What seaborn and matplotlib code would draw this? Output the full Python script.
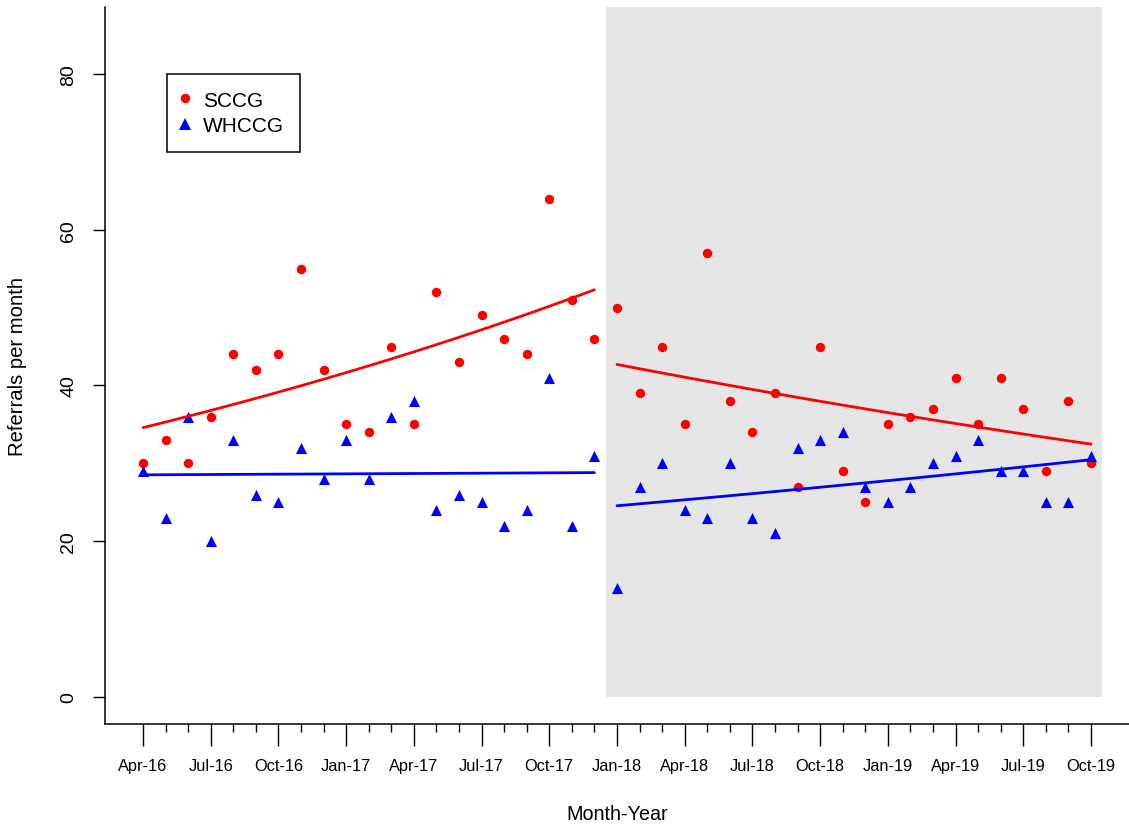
import numpy as np
import pandas as pd
import matplotlib
matplotlib.use("Agg")
import matplotlib.pyplot as plt
import seaborn as sns
from matplotlib.patches import Rectangle
from matplotlib.lines import Line2D

# ---------------- data ----------------
months = pd.date_range("2016-04-01", "2019-10-01", freq="MS")
month_labels = [d.strftime("%b-%y") for d in months]

sccg = [30, 33, 30, 36, 44, 42, 44, 55, 42, 35, 34, 45, 35, 52, 43, 49, 46, 44, 64, 51, 46,
        50, 39, 45, 35, 57, 38, 34, 39, 27, 45, 29, 25, 35, 36, 37, 41, 35, 41, 37, 29, 38, 30]
whccg = [29, 23, 36, 20, 33, 26, 25, 32, 28, 33, 28, 36, 38, 24, 26, 25, 22, 24, 41, 22, 31,
         14, 27, 30, 24, 23, 30, 23, 21, 32, 33, 34, 27, 25, 27, 30, 31, 33, 29, 29, 25, 25, 31]
groups = ["SCCG", "WHCCG"]
colors = {"SCCG": "#FF0000", "WHCCG": "#0000FF"}
intervention_start = 21  # first post-intervention month (Jan-18)

idx = np.arange(len(months))
df = pd.DataFrame({
    "idx": np.concatenate([idx, idx]),
    "value": np.array(sccg + whccg, dtype=float),
    "group": ["SCCG"] * len(idx) + ["WHCCG"] * len(idx),
})
df["period"] = np.where(df["idx"] < intervention_start, "pre", "post")


def poisson_fit(x, y, iters=50):
    X = np.column_stack([np.ones_like(x, dtype=float), x.astype(float)])
    b = np.array([np.log(np.mean(y)), 0.0])
    for _ in range(iters):
        eta = X @ b
        mu = np.exp(eta)
        z = eta + (y - mu) / mu
        W = mu
        b = np.linalg.solve(X.T @ (W[:, None] * X), X.T @ (W * z))
    return np.exp(X @ b)


fits = []
for g in groups:
    for p in ["pre", "post"]:
        sub = df[(df.group == g) & (df.period == p)].sort_values("idx")
        f = sub.copy()
        f["fit"] = poisson_fit(sub["idx"].values, sub["value"].values)
        f["seg"] = g + "_" + p
        fits.append(f)
fitdf = pd.concat(fits)

# ---------------- plot ----------------
sns.set_style("white")
plt.rcParams["font.family"] = ["Liberation Sans", "DejaVu Sans"]
plt.rcParams["text.color"] = "black"
plt.rcParams["axes.labelcolor"] = "black"
plt.rcParams["xtick.color"] = "black"
plt.rcParams["ytick.color"] = "black"

W, H = 1129, 829
fig = plt.figure(figsize=(W / 100, H / 100), dpi=100)
ax = fig.add_axes([105 / W, 104 / H, 1024 / W, 717 / H])

xmin, xmax = -1.684, 43.684
ymin, ymax = -3.47, 88.6
ax.set_xlim(xmin, xmax)
ax.set_ylim(ymin, ymax)

ax.add_patch(Rectangle((intervention_start - 0.5, 0), 22, ymax, facecolor="#E5E5E5",
                       edgecolor="none", zorder=0))

sub = df[df.group == "SCCG"]
sns.scatterplot(data=sub, x="idx", y="value", ax=ax, color=colors["SCCG"], marker="o",
                s=46, linewidth=0, legend=False, zorder=3)
sub = df[df.group == "WHCCG"]
sns.scatterplot(data=sub, x="idx", y="value", ax=ax, color=colors["WHCCG"], marker="^",
                s=64, linewidth=0, legend=False, zorder=3)

for g in groups:
    for p in ["pre", "post"]:
        seg = fitdf[fitdf.seg == g + "_" + p]
        sns.lineplot(data=seg, x="idx", y="fit", ax=ax, color=colors[g], linewidth=2.0,
                     legend=False, zorder=4)

# axes styling
for s in ["top", "right"]:
    ax.spines[s].set_visible(False)
for s in ["left", "bottom"]:
    ax.spines[s].set_visible(True)
    ax.spines[s].set_color("black")
    ax.spines[s].set_linewidth(1.1)

ax.set_xticks(idx[::3])
ax.set_xticklabels(month_labels[::3], fontsize=11.8, color="black")
ax.set_xticks(idx, minor=True)
ax.tick_params(axis="x", which="major", length=15.8, width=1.0, pad=8.5, color="black",
               direction="out", bottom=True)
ax.tick_params(axis="x", which="minor", length=5.8, width=1.0, color="black",
               direction="out", bottom=True)

ax.set_yticks([0, 20, 40, 60, 80])
ax.set_yticklabels(["0", "20", "40", "60", "80"], fontsize=14, rotation=90, va="center",
                   color="black")
ax.tick_params(axis="y", which="major", length=8.6, width=1.0, pad=11.5, color="black",
               direction="out", left=True)

ax.set_xlabel("Month-Year", fontsize=14.2, va="center", color="black")
ax.xaxis.set_label_coords(0.5, -(815 - 725) / 717)
ax.set_ylabel("Referrals per month", fontsize=14.6, va="center", ha="center", color="black")
ax.yaxis.set_label_coords((18 - 105) / 1024, 0.5)

handles = [
    Line2D([], [], marker="o", color=colors["SCCG"], linestyle="", markersize=6.8,
           markeredgewidth=0),
    Line2D([], [], marker="^", color=colors["WHCCG"], linestyle="", markersize=8.0,
           markeredgewidth=0),
]
leg = ax.legend(handles, groups, loc="upper left",
                bbox_to_anchor=((167 - 105) / 1024, (725 - 75) / 717),
                borderaxespad=0, fontsize=15, frameon=True, fancybox=False,
                handlelength=0.13, handletextpad=0.78, borderpad=0.8,
                labelspacing=0.31)
leg.get_frame().set_edgecolor("black")
leg.get_frame().set_linewidth(1.1)
leg.get_frame().set_facecolor("white")
leg.get_frame().set_alpha(1)
for t in leg.get_texts():
    t.set_color("black")

fig.savefig("out.png", dpi=100)
